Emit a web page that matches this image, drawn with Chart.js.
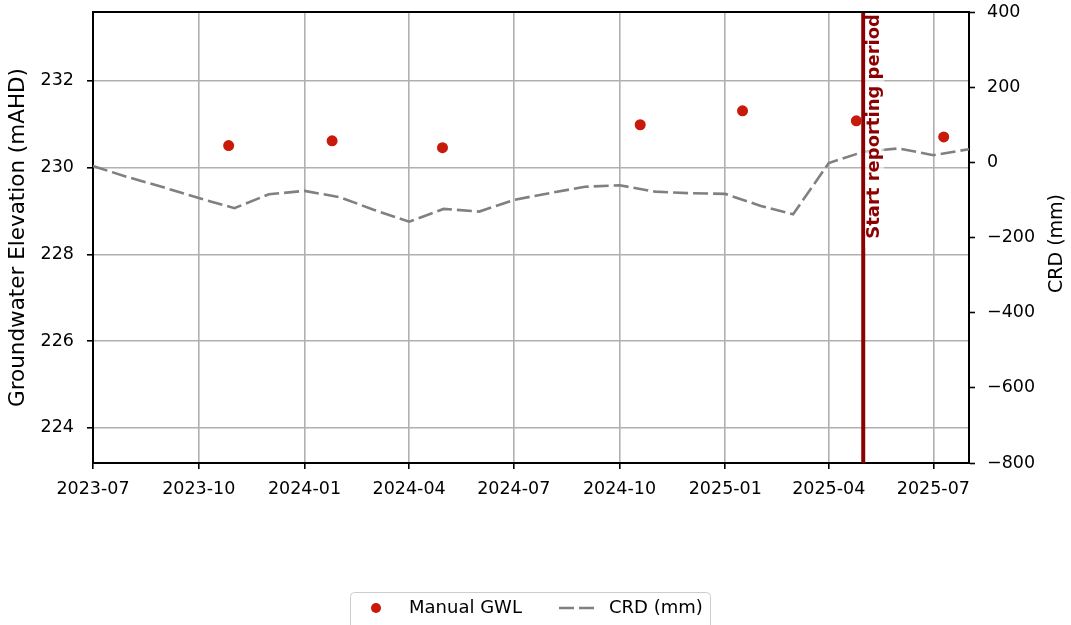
<!DOCTYPE html>
<html>
<head>
<meta charset="utf-8">
<script src="https://cdn.jsdelivr.net/npm/chart.js@4.4.0/dist/chart.umd.min.js"></script>
<style>
  body { margin: 0; background: #fff; }
</style>
</head>
<body>
<canvas id="myChart" width="1071" height="625"></canvas>
<script>
// manual groundwater level readings (mAHD)
const gwlDates = ['2023-10-27', '2024-01-25', '2024-04-30', '2024-10-19', '2025-01-16', '2025-04-25', '2025-07-10'];
const gwlValues = [230.51, 230.62, 230.46, 230.99, 231.31, 231.08, 230.71];

// cumulative rainfall departure, monthly (mm)
const crdDates = ['2023-07-01', '2023-08-01', '2023-09-01', '2023-10-01', '2023-11-01', '2023-12-01',
    '2024-01-01', '2024-02-01', '2024-03-01', '2024-04-01', '2024-05-01', '2024-06-01',
    '2024-07-01', '2024-08-01', '2024-09-01', '2024-10-01', '2024-11-01', '2024-12-01',
    '2025-01-01', '2025-02-01', '2025-03-01', '2025-04-01', '2025-05-01', '2025-06-01',
    '2025-07-01', '2025-08-01'];
const crdValues = [-10, -40, -67, -95, -122, -85,
    -76, -93, -126, -158, -124, -131,
    -100, -82, -65, -61, -78, -82,
    -84, -116, -138, -2, 28, 37,
    19, 35];

const xTickLabels = ['2023-07', '2023-10', '2024-01', '2024-04', '2024-07', '2024-10', '2025-01', '2025-04', '2025-07'];
const gwlTicks = [224, 226, 228, 230, 232];
const crdTicks = [-800, -600, -400, -200, 0, 200, 400];

const reportStart = '2025-05-01';
const reportLabel = 'Start reporting period';

const FONT = "'DejaVu Sans', sans-serif";

function toMs(d) {
    const [y, m, dd] = d.split('-').map(Number);
    return Date.UTC(y, m - 1, dd || 1);
}

// no extra room for the end tick labels, keep the plot box fixed
function fixVertical(width) {
    return (s) => {
        s.width = width;
        s.paddingTop = 0;
        s.paddingBottom = 0;
    };
}

// draws top spine, rotated labels and the legend box
const extras = {
    id: 'extras',
    afterDatasetsDraw(chart) {
        const ctx = chart.ctx;
        const area = chart.chartArea;
        const xs = chart.scales.x;

        // label next to reporting line
        const lx = xs.getPixelForValue(toMs(reportStart));
        ctx.save();
        ctx.fillStyle = 'rgba(255,255,255,0.6)';
        ctx.fillRect(lx + 2, area.top, 19, 236);
        ctx.translate(lx + 15.5, area.top + 2);
        ctx.rotate(-Math.PI / 2);
        ctx.font = "bold 18px " + FONT;
        ctx.fillStyle = '#8b0000';
        ctx.textAlign = 'right';
        ctx.textBaseline = 'alphabetic';
        ctx.fillText(reportLabel, 0, 0);
        ctx.restore();
    },
    afterDraw(chart) {
        const ctx = chart.ctx;
        const area = chart.chartArea;

        // top spine
        ctx.save();
        ctx.strokeStyle = '#000';
        ctx.lineWidth = 2;
        ctx.beginPath();
        ctx.moveTo(area.left - 1, area.top);
        ctx.lineTo(area.right + 1, area.top);
        ctx.stroke();

        // right axis title, reading upwards
        ctx.translate(1057, (area.top + area.bottom) / 2 + 6);
        ctx.rotate(-Math.PI / 2);
        ctx.font = "19px " + FONT;
        ctx.fillStyle = '#000';
        ctx.textAlign = 'center';
        ctx.textBaseline = 'middle';
        ctx.fillText('CRD (mm)', 0, 0);
        ctx.restore();

        // legend
        ctx.save();
        ctx.beginPath();
        ctx.roundRect(350.5, 592.5, 360, 50, 4);
        ctx.fillStyle = 'rgba(255,255,255,0.8)';
        ctx.fill();
        ctx.strokeStyle = '#cccccc';
        ctx.lineWidth = 1;
        ctx.stroke();

        ctx.fillStyle = '#c8190a';
        ctx.beginPath();
        ctx.arc(376, 608, 5, 0, Math.PI * 2);
        ctx.fill();

        ctx.strokeStyle = '#808080';
        ctx.lineWidth = 2.6;
        ctx.setLineDash([15, 5]);
        ctx.beginPath();
        ctx.moveTo(559, 608);
        ctx.lineTo(596, 608);
        ctx.stroke();
        ctx.setLineDash([]);

        ctx.font = "18px " + FONT;
        ctx.fillStyle = '#000';
        ctx.textAlign = 'left';
        ctx.textBaseline = 'middle';
        ctx.fillText('Manual GWL', 409, 608);
        ctx.fillText('CRD (mm)', 609, 608);
        ctx.restore();
    }
};

new Chart('myChart', {
    type: 'scatter',
    data: {
        datasets: [
            {
                label: 'Manual GWL',
                data: gwlDates.map((d, i) => ({ x: toMs(d), y: gwlValues[i] })),
                yAxisID: 'y',
                showLine: false,
                pointRadius: 5.5,
                pointBackgroundColor: '#c8190a',
                pointBorderWidth: 0,
            },
            {
                label: 'Start',
                data: [{ x: toMs(reportStart), y: -800 }, { x: toMs(reportStart), y: 400 }],
                yAxisID: 'y2',
                showLine: true,
                borderColor: '#8b0000',
                borderWidth: 4,
                pointRadius: 0,
            },
            {
                label: 'CRD (mm)',
                data: crdDates.map((d, i) => ({ x: toMs(d), y: crdValues[i] })),
                yAxisID: 'y2',
                showLine: true,
                borderColor: '#808080',
                borderWidth: 2.6,
                borderDash: [15, 5],
                pointRadius: 0,
                tension: 0,
            },
        ]
    },
    options: {
        responsive: false,
        animation: false,
        layout: { padding: { top: 12, left: 0, right: 0, bottom: 0 } },
        plugins: {
            legend: { display: false },
            tooltip: { enabled: false },
        },
        scales: {
            x: {
                type: 'linear',
                position: 'bottom',
                min: toMs('2023-07-01'),
                max: toMs('2025-08-01'),
                afterBuildTicks: (s) => { s.ticks = xTickLabels.map(l => ({ value: toMs(l) })); },
                afterFit: (s) => { s.height = 162; s.paddingLeft = 0; s.paddingRight = 0; },
                ticks: {
                    autoSkip: false,
                    maxRotation: 0,
                    color: '#000',
                    padding: 10,
                    font: { family: FONT, size: 17.5 },
                    callback: (v, i) => xTickLabels[i],
                },
                grid: { color: '#b0b0b0', lineWidth: 1.6, tickColor: '#000', tickLength: 6, tickWidth: 1.6 },
                border: { color: '#000', width: 2 },
            },
            y: {
                position: 'left',
                min: 223.19,
                max: 233.59,
                afterBuildTicks: (s) => { s.ticks = gwlTicks.map(v => ({ value: v })); },
                afterFit: fixVertical(93),
                ticks: {
                    color: '#000',
                    padding: 13,
                    font: { family: FONT, size: 17.5 },
                },
                title: {
                    display: true,
                    text: 'Groundwater Elevation (mAHD)',
                    color: '#000',
                    font: { family: FONT, size: 21.5 },
                    padding: { top: 6, bottom: 0 },
                },
                grid: { color: '#b0b0b0', lineWidth: 1.6, tickColor: '#000', tickLength: 6, tickWidth: 1.6 },
                border: { color: '#000', width: 2 },
            },
            y2: {
                position: 'right',
                min: -800,
                max: 400,
                afterBuildTicks: (s) => { s.ticks = crdTicks.map(v => ({ value: v })); },
                afterFit: fixVertical(102),
                ticks: {
                    color: '#000',
                    padding: 12,
                    font: { family: FONT, size: 17.5 },
                    callback: (v) => (v < 0 ? '\u2212' + Math.abs(v) : String(v)),
                },
                grid: { drawOnChartArea: false, tickColor: '#000', tickLength: 6, tickWidth: 1.6 },
                border: { color: '#000', width: 2 },
            },
        }
    },
    plugins: [extras]
});
</script>
</body>
</html>
